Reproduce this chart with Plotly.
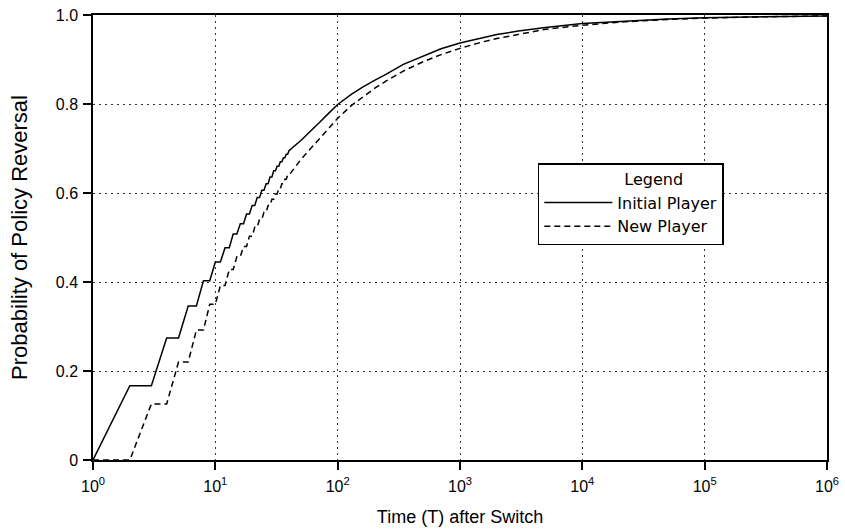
import plotly.graph_objects as go

# ---- data ----
T_INIT = [1, 2, 3, 4, 5, 6, 7, 8, 9, 10, 11, 12, 13, 14, 15, 16, 17, 18, 19, 20,
          21, 22, 23, 24, 25, 26, 27, 28, 29, 30, 31, 32, 33, 34, 35, 36, 37, 38, 39, 40,
          50, 60, 72, 85, 100, 130, 160, 200, 250, 344, 500, 700, 1000, 1500, 2000,
          3000, 5000, 10000, 20000, 50000, 100000, 300000, 1000000]
P_INIT = [0, 0.167, 0.167, 0.274, 0.274, 0.346, 0.346, 0.403, 0.403, 0.445,
          0.445, 0.477, 0.477, 0.508, 0.508, 0.531, 0.531, 0.553, 0.553, 0.572,
          0.572, 0.590, 0.590, 0.606, 0.606, 0.621, 0.621, 0.636, 0.636, 0.650,
          0.650, 0.660, 0.660, 0.670, 0.670, 0.679, 0.679, 0.687, 0.687, 0.695,
          0.718, 0.738, 0.760, 0.780, 0.799, 0.822, 0.838, 0.853, 0.867, 0.889,
          0.908, 0.924, 0.937, 0.949, 0.956, 0.964, 0.972, 0.981, 0.986, 0.991,
          0.994, 0.996, 0.998]

T_NEW = [1, 2, 3, 4, 5, 6, 7, 8, 9, 10, 11, 12, 13, 14, 15, 16, 17, 18, 19, 20,
         21, 22, 23, 24, 25, 26, 27, 28, 29, 30, 31, 32, 33, 34, 35, 36, 37, 38, 39, 40,
         50, 60, 72, 85, 100, 130, 160, 200, 250, 344, 500, 700, 1000, 1500, 2000,
         3000, 5000, 10000, 20000, 50000, 100000, 300000, 1000000]
P_NEW = [0, 0, 0.126, 0.126, 0.220, 0.220, 0.292, 0.292, 0.350, 0.350,
         0.392, 0.392, 0.428, 0.428, 0.457, 0.457, 0.480, 0.480, 0.503, 0.503,
         0.523, 0.523, 0.541, 0.541, 0.557, 0.557, 0.572, 0.572, 0.586, 0.586,
         0.598, 0.598, 0.610, 0.610, 0.621, 0.621, 0.631, 0.631, 0.640, 0.640,
         0.675, 0.700, 0.725, 0.746, 0.768, 0.797, 0.815, 0.835, 0.852, 0.874,
         0.895, 0.911, 0.925, 0.939, 0.947, 0.957, 0.968, 0.977, 0.984, 0.990,
         0.993, 0.996, 0.998]

X_TICKS = [1, 10, 100, 1000, 10000, 100000, 1000000]
X_TICK_TEXT = ["10<sup>0</sup>", "10<sup>1</sup>", "10<sup>2</sup>", "10<sup>3</sup>",
               "10<sup>4</sup>", "10<sup>5</sup>", "10<sup>6</sup>"]
Y_TICKS = [0, 0.2, 0.4, 0.6, 0.8, 1.0]
Y_TICK_TEXT = ["0", "0.2", "0.4", "0.6", "0.8", "1.0"]

fig = go.Figure()
fig.add_trace(go.Scatter(x=T_INIT, y=P_INIT, mode="lines", name="Initial Player",
                         line=dict(color="black", width=1.5)))
fig.add_trace(go.Scatter(x=T_NEW, y=P_NEW, mode="lines", name="New Player",
                         line=dict(color="black", width=1.5, dash="6px,4px")))

font_main = "Liberation Sans, Arial, sans-serif"
font_leg = "DejaVu Sans, sans-serif"

fig.update_layout(
    width=845, height=530,
    margin=dict(l=93, r=18, t=15, b=70, autoexpand=False),
    paper_bgcolor="white", plot_bgcolor="white",
    font=dict(family=font_main, size=16, color="black"),
    showlegend=True,
    legend=dict(
        x=0.606, y=0.667, xanchor="left", yanchor="top",
        bgcolor="white", bordercolor="black", borderwidth=1.5,
        title=dict(text="\u00a0" * 9 + "Legend", side="top center",
                   font=dict(family=font_leg, size=16)),
        font=dict(family=font_leg, size=16),
        itemwidth=68,
        tracegroupgap=0,
    ),
    xaxis=dict(
        type="log", range=[0, 6],
        tickvals=X_TICKS, ticktext=X_TICK_TEXT,
        ticks="outside", ticklen=8, tickwidth=1.5, tickcolor="black",
        ticklabelstandoff=3, ticklabeloverflow="allow",
        showline=True, linecolor="black", linewidth=1.5, mirror=True,
        showgrid=True, gridcolor="#333", griddash="2px,4px", gridwidth=1,
        zeroline=False,
        tickfont=dict(size=16),
        title=dict(text="Time (T) after Switch", standoff=16,
                   font=dict(size=18)),
    ),
    yaxis=dict(
        range=[0, 1],
        tickvals=Y_TICKS, ticktext=Y_TICK_TEXT,
        ticks="outside", ticklen=8, tickwidth=1.5, tickcolor="black",
        ticklabelstandoff=2, ticklabeloverflow="allow",
        showline=True, linecolor="black", linewidth=1.5, mirror=True,
        showgrid=True, gridcolor="#333", griddash="2px,4px", gridwidth=1,
        zeroline=False,
        tickfont=dict(size=16),
        title=dict(text="Probability of Policy Reversal", standoff=22,
                   font=dict(size=22)),
    ),
)

fig.write_html(
    "out.html",
    config={"displayModeBar": False},
    post_script="document.body.style.margin='0';document.body.style.overflow='hidden';",
)
